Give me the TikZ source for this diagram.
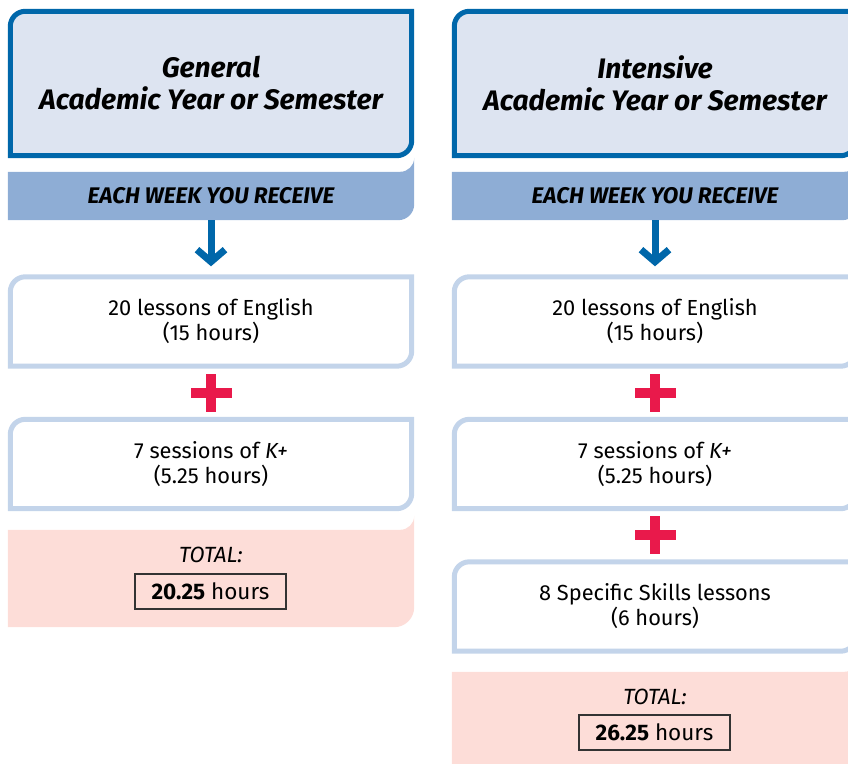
\documentclass[tikz,border=0pt]{standalone}
\usepackage{fontspec}
\setmainfont{Fira Sans}
\usepackage{tikz}
\usetikzlibrary{calc,backgrounds,arrows.meta}

\definecolor{hdrblue}{RGB}{0,103,170}
\definecolor{hdrfill}{RGB}{221,228,241}
\definecolor{barfill}{RGB}{142,173,213}
\definecolor{boxline}{RGB}{195,212,234}
\definecolor{plusred}{RGB}{233,25,75}
\definecolor{totfill}{RGB}{253,221,216}

\tikzset{
  hdrtext/.style={inner sep=0pt, minimum width=401pt, minimum height=144pt, align=center,
    font=\fontsize{28.2}{32}\selectfont\bfseries\itshape},
  weektext/.style={inner sep=0pt, minimum width=406pt, minimum height=48pt,
    font=\fontsize{22.6}{24}\selectfont\bfseries\itshape},
  itemtext/.style={inner sep=0pt, minimum width=401pt, minimum height=89pt, align=center,
    font=\fontsize{21.8}{25}\selectfont},
  tottext/.style={inner sep=0pt, minimum width=406pt, minimum height=97pt},
  totlabel/.style={inner sep=0pt, font=\fontsize{22}{24}\selectfont\itshape},
  hourbox/.style={draw=black!80, line width=1.2pt, minimum width=151pt, minimum height=35pt,
    inner sep=0pt, font=\fontsize{22.5}{24}\selectfont},
  hdrline/.style={draw=hdrblue, fill=hdrfill, line width=5pt},
  itemline/.style={draw=boxline, fill=white, line width=5pt},
  flow/.style={draw=hdrblue, line width=7pt, -{Straight Barb[length=12pt,width=28pt,sharp]}},
  plussign/.pic={\fill[plusred] (-20.5,-5) rectangle (20.5,5);
                 \fill[plusred] (-5,-19) rectangle (5,19);}
}

% outline with round top left and bottom right corners
\newcommand\cardpath[2]{(#1.south west) -- ([yshift=-#2]#1.north west) arc (180:90:#2)
  -- (#1.north east) -- ([yshift=#2]#1.south east) arc (0:-90:#2) -- cycle}
% band with an ear at the top right
\newcommand\earpath[3]{(#1.north west) -- ([xshift=-#2]#1.north east) arc (270:360:#2)
  -- ([yshift=#3]#1.south east) arc (0:-90:#3) -- (#1.south west) -- cycle}

\begin{document}
\begin{tikzpicture}[x=1pt,y=1pt]
\useasboundingbox (0,0) rectangle (848,-763);
\clip (0,0) rectangle (848,-763);

% General
\node[hdrtext] (genhead) at (211,-83.5) {General\\Academic Year or Semester};
\node[weektext] (genweek) at (211,-196) {EACH WEEK YOU RECEIVE};
\node[itemtext] (genitem1) at (211,-321.5) {20 lessons of English\\(15 hours)};
\node[itemtext] (genitem2) at (211,-464) {7 sessions of \textit{K+}\\(5.25 hours)};
\node[tottext] (gentot) at (211,-578.5) {};
\node[totlabel] (gentotlab) at (211,-555) {TOTAL:};
\node[hourbox] (genhours) at (210.5,-591.5) {\textbf{20.25} hours};

% Intensive
\node[hdrtext] (inthead) at (655,-83.5) {Intensive\\Academic Year or Semester};
\node[weektext] (intweek) at (655,-196) {EACH WEEK YOU RECEIVE};
\node[itemtext] (intitem1) at (655,-321.5) {20 lessons of English\\(15 hours)};
\node[itemtext] (intitem2) at (655,-464) {7 sessions of \textit{K+}\\(5.25 hours)};
\node[itemtext] (intitem3) at (655,-606.5) {8 Specific Skills lessons\\(6 hours)};
\node[tottext] (inttot) at (655,-720.5) {};
\node[totlabel] (inttotlab) at (655,-697) {TOTAL:};
\node[hourbox] (inthours) at (654.5,-732.5) {\textbf{26.25} hours};

\draw[flow] (genweek.south) -- ([yshift=10.5pt]genitem1.north);
\draw[flow] (intweek.south) -- ([yshift=10.5pt]intitem1.north);

\pic at ($(genitem1.south)!0.5!(genitem2.north)$) {plussign};
\pic at ($(intitem1.south)!0.5!(intitem2.north)$) {plussign};
\pic at ($(intitem2.south)!0.5!(intitem3.north)$) {plussign};

\begin{scope}[on background layer]
\draw[hdrline] \cardpath{genhead}{15pt};
\draw[hdrline] \cardpath{inthead}{15pt};
\fill[barfill] \earpath{genweek}{14pt}{16pt};
\fill[barfill] \earpath{intweek}{14pt}{16pt};
\foreach \n in {genitem1,genitem2,intitem1,intitem2,intitem3}
  \draw[itemline] \cardpath{\n}{15pt};
\fill[totfill] \earpath{gentot}{14pt}{20pt};
\fill[totfill] \earpath{inttot}{14pt}{20pt};
\end{scope}
\end{tikzpicture}
\end{document}
